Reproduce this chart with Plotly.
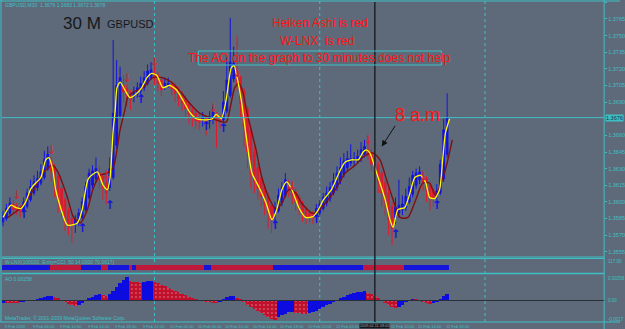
import plotly.graph_objects as go

W, H = 625, 329
BASE_PRICE = 1.3500
PIP = 0.0001

# ---------------- data (prices in pips above 1.3500) ----------------
bar_index = list(range(130))

ha_open = [82, 85, 90, 98, 96, 94, 92, 96, 102, 108,
           113, 117, 122, 130, 137, 132, 123, 112, 102, 92,
           85, 80, 82, 86, 93, 104, 115, 121, 126, 123,
           118, 113, 122, 151, 178, 205, 202, 198, 195, 197,
           200, 203, 207, 212, 216, 214, 210, 205, 206, 206,
           204, 201, 197, 193, 188, 183, 180, 176, 174, 175,
           173, 175, 178, 176, 174, 182, 196, 211, 218, 212,
           200, 184, 164, 145, 131, 121, 113, 105, 97, 90,
           92, 99, 106, 113, 112, 109, 104, 99, 94, 90,
           88, 87, 90, 94, 99, 103, 108, 113, 119, 125,
           131, 135, 137, 138, 139, 143, 147, 145, 140, 133,
           126, 117, 108, 96, 86, 90, 93, 95, 100, 107,
           115, 120, 123, 121, 115, 110, 106, 108, 121, 143]

ha_close = [88, 94, 99, 93, 92, 91, 100, 108, 114, 118,
            121, 127, 138, 143, 128, 114, 102, 92, 82, 78,
            79, 84, 90, 100, 114, 126, 128, 130, 120, 113,
            108, 130, 180, 205, 212, 199, 195, 192, 199, 203,
            207, 212, 218, 219, 212, 207, 201, 207, 207, 202,
            198, 193, 189, 184, 179, 176, 173, 172, 176, 172,
            177, 181, 174, 173, 190, 210, 226, 225, 206, 188,
            168, 145, 125, 118, 112, 105, 98, 90, 84, 95,
            106, 113, 120, 110, 106, 100, 94, 89, 86, 86,
            86, 94, 98, 104, 108, 113, 119, 126, 131, 137,
            139, 139, 139, 141, 147, 150, 142, 134, 127, 118,
            108, 100, 84, 76, 95, 97, 98, 105, 114, 124,
            126, 127, 118, 110, 104, 103, 110, 134, 165, 176]

ha_high = [92, 98, 104, 102, 99, 97, 104, 112, 120, 124,
           128, 134, 146, 150, 141, 134, 125, 114, 104, 95,
           90, 88, 94, 104, 118, 130, 133, 140, 132, 126,
           121, 140, 246, 228, 222, 214, 206, 201, 204, 208,
           213, 218, 224, 226, 222, 217, 213, 212, 212, 209,
           207, 204, 200, 196, 191, 186, 183, 180, 181, 178,
           182, 186, 181, 179, 200, 230, 266, 240, 250, 214,
           203, 186, 168, 150, 135, 124, 116, 108, 100, 100,
           112, 118, 126, 120, 115, 112, 107, 101, 96, 93,
           92, 98, 102, 108, 114, 118, 126, 132, 140, 144,
           146, 152, 145, 147, 154, 156, 158, 148, 142, 136,
           128, 120, 112, 100, 104, 120, 106, 112, 122, 128,
           130, 132, 128, 123, 117, 112, 116, 138, 175, 198]

ha_low = [78, 83, 88, 90, 88, 86, 90, 94, 100, 106,
          110, 115, 120, 128, 118, 104, 90, 86, 74, 70,
          63, 72, 78, 84, 91, 102, 112, 118, 112, 102,
          98, 110, 120, 148, 175, 190, 186, 183, 190, 194,
          197, 200, 205, 210, 205, 200, 195, 201, 203, 196,
          190, 186, 182, 176, 170, 168, 166, 165, 168, 160,
          166, 170, 149, 166, 172, 180, 194, 208, 200, 176,
          150, 130, 112, 108, 102, 96, 88, 76, 72, 80,
          90, 96, 104, 104, 98, 92, 88, 82, 80, 82,
          80, 84, 88, 92, 96, 100, 106, 110, 116, 122,
          128, 132, 133, 135, 136, 140, 138, 128, 118, 108,
          96, 88, 70, 61, 80, 86, 88, 92, 98, 104,
          112, 116, 110, 100, 92, 96, 102, 106, 118, 140]

# fast (yellow) and slow (dark red) moving averages: (bar, pips)
fast_ma = [(0, 86), (2.3, 97), (3.7, 95), (5.2, 94), (6.6, 100), (8.1, 112), (9.5, 117), (11, 122),
           (12.4, 138), (13.3, 140), (14.4, 130), (15.3, 111), (16.7, 95), (18.7, 79), (21.6, 81),
           (23, 93), (24.8, 121), (27.4, 127), (29.1, 115), (30.3, 111), (31.1, 122), (32, 165),
           (32.6, 183), (33.1, 203), (34, 208), (35.4, 201), (36.9, 194), (38.9, 198), (40.3, 203),
           (41.8, 212), (43.2, 216), (44.7, 214), (46.4, 203), (48.4, 205), (50.4, 201), (52.2, 192),
           (54.2, 181), (56.2, 175), (59.1, 174), (60.8, 175), (61.9, 179), (63.4, 175), (64.8, 192),
           (66.3, 221), (67.1, 223), (68, 212), (69.2, 192), (70, 174), (70.9, 153), (72.3, 126),
           (74.4, 113), (76.4, 99), (78.1, 84), (79.5, 93), (81, 111), (82.4, 118), (83.9, 111),
           (85.9, 95), (87.9, 86), (90.2, 87), (91.6, 93), (93.1, 102), (95.4, 111), (98, 129),
           (99.4, 136), (101.2, 138), (103.2, 138), (104.6, 145), (105.5, 147), (106.6, 144),
           (108.1, 130), (109.5, 117), (111, 102), (112.4, 84), (113.3, 77), (114.7, 93), (116.7, 95),
           (118.2, 108), (119.6, 122), (121.3, 124), (122.8, 117), (123.9, 104), (125.4, 103),
           (126.8, 111), (127.7, 138), (128.5, 162), (129.7, 175)]

slow_ma = [(1.4, 86), (5.2, 95), (8.9, 111), (11.8, 127), (14.4, 133), (16.1, 126), (18.7, 104),
           (20.5, 86), (22.5, 81), (24.5, 93), (26.2, 112), (28.2, 124), (30.3, 126), (32, 131),
           (34, 165), (35.4, 183), (36.2, 194), (37.8, 199), (40.6, 203), (43.5, 212), (46.4, 212),
           (49.3, 207), (51.9, 198), (54.2, 189), (57.1, 180), (60.8, 175), (64.8, 172), (66, 185),
           (67.3, 203), (68.5, 207), (69.5, 201), (70.9, 180), (73.5, 147), (75.2, 122), (77.2, 104),
           (79.3, 93), (81, 99), (83, 111), (85, 108), (86.7, 99), (89.6, 90), (90.8, 90), (93.7, 99),
           (96.5, 111), (99.4, 126), (102.3, 133), (105.2, 142), (107.5, 144), (109.5, 138),
           (111.2, 122), (113.3, 102), (115.3, 86), (117.6, 86), (119.9, 102), (121.9, 117),
           (123.9, 117), (125.6, 106), (128.2, 126), (130.5, 156)]

up_arrow_bars = [6, 23, 31, 40, 59, 64, 79, 91, 114, 126]
up_arrow_pips = [88, 76, 96, 192, 168, 166, 78, 84, 70, 96]
down_arrow_bars = [4, 14, 30, 36, 44, 61, 68, 84, 106, 122]
down_arrow_pips = [105, 146, 123, 211, 225, 184, 215, 113, 155, 122]

# W-LNX state segments (first bar, last bar, state)
wlnx_segments = [(0, 13, 1), (14, 22, -1), (23, 28, 1), (29, 30, -1), (31, 36, 1), (37, 37, -1),
                 (38, 38, 1), (39, 58, -1), (59, 60, 1), (61, 78, -1), (79, 104, 1),
                 (105, 116, -1), (117, 129, 1)]

# Awesome Oscillator, in units of 0.0001
ao_values = [-2, -2, -2, -2, -2, -1.5, -1, -0.5, 0, 0.5,
             1.5, 2.5, 3.5, 4.5, 5, 4, 2.5, 0.5, -1.5, -3,
             -4.5, -5, -4, -2, 0.5, 2.5, 4, 5.5, 7, 6,
             5, 7, 10, 14, 18, 21, 23.5, 20, 19, 18.5,
             18, 19, 19.5, 20, 19, 17.5, 16, 14.5, 13, 11.5,
             10, 8.5, 7, 5.5, 4, 2.5, 1, 0, -0.5, -1,
             -1.5, -2, -2.5, -1, 1.5, 4, 4.5, 4.6, 3, 1,
             -1, -4, -6, -8, -10, -12, -14, -16, -18, -19,
             -16, -14, -13, -11.5, -11, -12, -12.5, -13, -13.2, -12,
             -11, -10, -8, -6, -4.5, -3, -1.5, 0.5, 2.5, 4,
             5.5, 6.5, 7.5, 8.5, 9, 9.5, 8, 6.5, 4.5, 2.5,
             0, -2, -4, -6, -7, -6.5, -4, -1.5, 0.5, 1.5,
             1, 0.5, -1, -2, -3, -2.5, -1, 2, 5, 7]

price_tick_labels = ["1.3780", "1.3765", "1.3750", "1.3735", "1.3720", "1.3705", "1.3690",
                     "1.3660", "1.3645", "1.3630", "1.3615", "1.3600", "1.3585", "1.3570", "1.3555"]

time_tick_bars = [0, 8, 16, 24, 32, 40, 48, 56, 64, 72, 80, 88, 96, 112, 120, 128]
time_tick_labels = ["9 Feb 2009", "9 Feb 06:00", "9 Feb 10:00", "9 Feb 14:00", "9 Feb 18:00",
                    "9 Feb 22:00", "10 Feb 02:00", "10 Feb 06:00", "10 Feb 10:00", "10 Feb 14:00",
                    "10 Feb 18:00", "10 Feb 22:00", "11 Feb 02:00", "11 Feb 10:00",
                    "11 Feb 14:00", "11 Feb 18:00"]
day_grid_bars = [44, 92, 140]
marked_bar = 108
marked_label = "2009.02.11 08:00"

# ---------------- styling ----------------
BG = "#5e6a79"
CYAN = "#3cc0c6"
BLUE = "#1414dc"
RED = "#e01a2c"
AR_RED = "#c82a40"
FONT = "Liberation Sans, Arial, sans-serif"


def price(p):
    return round(BASE_PRICE + p * PIP, 5)


def px(x):
    return x / W


def py(y):
    return 1 - y / H


X_DOMAIN = [px(2), px(609)]
X_RANGE = [-0.3, 174.6]

fig = go.Figure()

fig.add_trace(go.Candlestick(
    x=bar_index,
    open=[price(v) for v in ha_open], high=[price(v) for v in ha_high],
    low=[price(v) for v in ha_low], close=[price(v) for v in ha_close],
    increasing=dict(line=dict(color=BLUE, width=1), fillcolor=BLUE),
    decreasing=dict(line=dict(color=RED, width=1), fillcolor=RED),
    whiskerwidth=0, showlegend=False, hoverinfo="skip", xaxis="x", yaxis="y"))

fig.add_trace(go.Scatter(
    x=[b for b, _ in slow_ma], y=[price(v) for _, v in slow_ma], mode="lines",
    line=dict(color="#7e0f12", width=1.4, shape="spline", smoothing=0.7),
    showlegend=False, hoverinfo="skip", xaxis="x", yaxis="y"))

fig.add_trace(go.Scatter(
    x=[b for b, _ in fast_ma], y=[price(v) for _, v in fast_ma], mode="lines",
    line=dict(color="#ffff00", width=1.3, shape="spline", smoothing=0.6),
    showlegend=False, hoverinfo="skip", xaxis="x", yaxis="y"))

fig.add_trace(go.Scatter(
    x=up_arrow_bars, y=[price(v) for v in up_arrow_pips], mode="text",
    text=["<b>↑</b>"] * len(up_arrow_bars),
    textfont=dict(color=BLUE, size=12, family="DejaVu Sans"), textposition="middle center",
    showlegend=False, hoverinfo="skip", xaxis="x", yaxis="y"))

fig.add_trace(go.Scatter(
    x=down_arrow_bars, y=[price(v) for v in down_arrow_pips], mode="text",
    text=["<b>↓</b>"] * len(down_arrow_bars),
    textfont=dict(color=AR_RED, size=12, family="DejaVu Sans"), textposition="middle center",
    showlegend=False, hoverinfo="skip", xaxis="x", yaxis="y"))

# W-LNX band
wlnx_state = [0] * len(bar_index)
for a, b, s in wlnx_segments:
    for i in range(a, b + 1):
        wlnx_state[i] = s
fig.add_trace(go.Bar(
    x=bar_index, y=[0.33] * len(bar_index), base=0.2, width=1,
    marker=dict(color=[BLUE if s > 0 else "#c0183a" for s in wlnx_state], line=dict(width=0)),
    showlegend=False, hoverinfo="skip", xaxis="x2", yaxis="y2"))

# AO histogram
ao_up = [i == 0 or ao_values[i] > ao_values[i - 1] for i in range(len(ao_values))]
fig.add_trace(go.Bar(
    x=bar_index, y=[v * PIP for v in ao_values], width=1,
    marker=dict(color=["#0c0ce0" if u else "#c0102c" for u in ao_up], line=dict(width=0),
                pattern=dict(shape=["" if u else "." for u in ao_up], fillmode="overlay",
                             fgcolor="#5a6270", size=4, solidity=0.12)),
    showlegend=False, hoverinfo="skip", xaxis="x3", yaxis="y3"))

last_price = price(ha_close[-1])

layout_axes = dict(
    xaxis=dict(domain=X_DOMAIN, range=X_RANGE, anchor="y", showticklabels=False, showgrid=False,
               zeroline=False, rangeslider=dict(visible=False), fixedrange=True),
    xaxis2=dict(domain=X_DOMAIN, range=X_RANGE, anchor="y2", showticklabels=False, showgrid=False,
                zeroline=False),
    xaxis3=dict(domain=X_DOMAIN, range=X_RANGE, anchor="y3", showticklabels=False, showgrid=False,
                zeroline=False),
    yaxis=dict(domain=[py(257), py(2)], range=[price(50.3), price(280.3)], side="right",
               tickmode="array", tickvals=[float(t) for t in price_tick_labels], ticktext=price_tick_labels,
               tickfont=dict(size=5.5, color=CYAN, family=FONT), ticks="outside", ticklen=2,
               tickcolor=CYAN, showgrid=False, zeroline=False),
    yaxis2=dict(domain=[py(273), py(258)], range=[0, 1], visible=False),
    yaxis3=dict(domain=[py(321), py(275)], range=[-20.5 * PIP, 25.5 * PIP], visible=False),
)

shapes = []


def hline(y, x0=2, x1=609, color=CYAN, width=1, dash="solid"):
    shapes.append(dict(type="line", xref="paper", yref="paper", x0=px(x0), x1=px(x1), y0=py(y), y1=py(y),
                       line=dict(color=color, width=width, dash=dash)))


# frame lines
hline(1, 0, 625)
hline(257)
hline(258.5)
hline(273.5, width=1.5)
hline(322, 0, 625)
shapes.append(dict(type="line", xref="paper", yref="paper", x0=px(609), x1=px(609), y0=py(329), y1=py(0),
                   line=dict(color=CYAN, width=1)))
shapes.append(dict(type="line", xref="paper", yref="paper", x0=px(1), x1=px(1), y0=py(322), y1=py(0),
                   line=dict(color=CYAN, width=1)))
# daily grid
for b in day_grid_bars:
    shapes.append(dict(type="line", xref="x", yref="paper", x0=b, x1=b, y0=py(322), y1=py(1),
                       line=dict(color=CYAN, width=1, dash="dot"), layer="below"))
# bid line
shapes.append(dict(type="line", xref="paper", yref="y", x0=px(2), x1=px(609), y0=last_price, y1=last_price,
                   line=dict(color=CYAN, width=1)))
# AO zero line
shapes.append(dict(type="line", xref="paper", yref="y3", x0=px(2), x1=px(609), y0=0, y1=0,
                   line=dict(color="#2a3038", width=1)))
# marked vertical line
shapes.append(dict(type="line", xref="x", yref="paper", x0=marked_bar, x1=marked_bar, y0=py(322), y1=py(2),
                   line=dict(color="#1e2228", width=1.5)))
# text box outline
shapes.append(dict(type="rect", xref="paper", yref="paper", x0=px(200), x1=px(445), y0=py(65), y1=py(51),
                   line=dict(color=CYAN, width=1)))

annotations = []


def note(text, x, y, size, color, xanchor="left", xref="paper", yref="paper", bg=None, family=FONT):
    a = dict(text=text, x=x, y=y, xref=xref, yref=yref, xanchor=xanchor, yanchor="middle",
             showarrow=False, font=dict(size=size, color=color, family=family))
    if bg:
        a["bgcolor"] = bg
        a["borderpad"] = 0
    annotations.append(a)


note("GBPUSD,M30  1.3679 1.3683 1.3672 1.3678", px(3), py(5), 5, CYAN)
note("30 M", px(61), py(23), 17, "#15181c")
note("GBPUSD", px(106), py(24), 11, "#15181c")
note("Heiken Ashi is red", px(323), py(23), 12, "#ff1414", xanchor="center")
note("W-LNX  is red", px(320), py(41), 12, "#ff1414", xanchor="center")
note("The AO on the graph to 30 minutes does not help", px(322.5), py(58), 12, "#ff1414", xanchor="center")
note("8 a.m", px(396), py(115), 18, "#ff1414")
note("W-LNX(100000, Entry=CCI, 50 14.0000 70.0617)", px(3), py(262), 5, CYAN)
note("AO 0.00258", px(3), py(279), 5, CYAN)
note("MetaTrader, © 2001-2009 MetaQuotes Software Corp.", px(3), py(318), 5, CYAN)
note("{:.4f}".format(last_price), px(610), last_price, 5.5, "#20303a", yref="y", bg=CYAN)
note("117.00", px(611), py(261), 4.5, CYAN)
note("0.00258", px(611), py(278), 4.5, CYAN)
note("0.00", px(611), py(300.5), 4.5, CYAN)
note("-0.0017", px(611), py(319), 4.5, CYAN)
for b, lbl in zip(time_tick_bars, time_tick_labels):
    note(lbl, b, py(326), 4.0, CYAN, xref="x")
note(marked_label, marked_bar, py(326), 3.8, "#9aa4b0", xanchor="center", xref="x", bg="#14181e")

annotations.append(dict(x=110.0, y=price(150), ax=114.2, ay=price(170), xref="x", yref="y",
                        axref="x", ayref="y", showarrow=True, arrowhead=2, arrowsize=1.2,
                        arrowwidth=1, arrowcolor="#111111", text=""))

fig.update_layout(
    width=W, height=H, margin=dict(l=0, r=0, t=0, b=0),
    paper_bgcolor=BG, plot_bgcolor=BG, showlegend=False, bargap=0,
    shapes=shapes, annotations=annotations, font=dict(family=FONT),
    **layout_axes)

fig.write_html("out.html")
